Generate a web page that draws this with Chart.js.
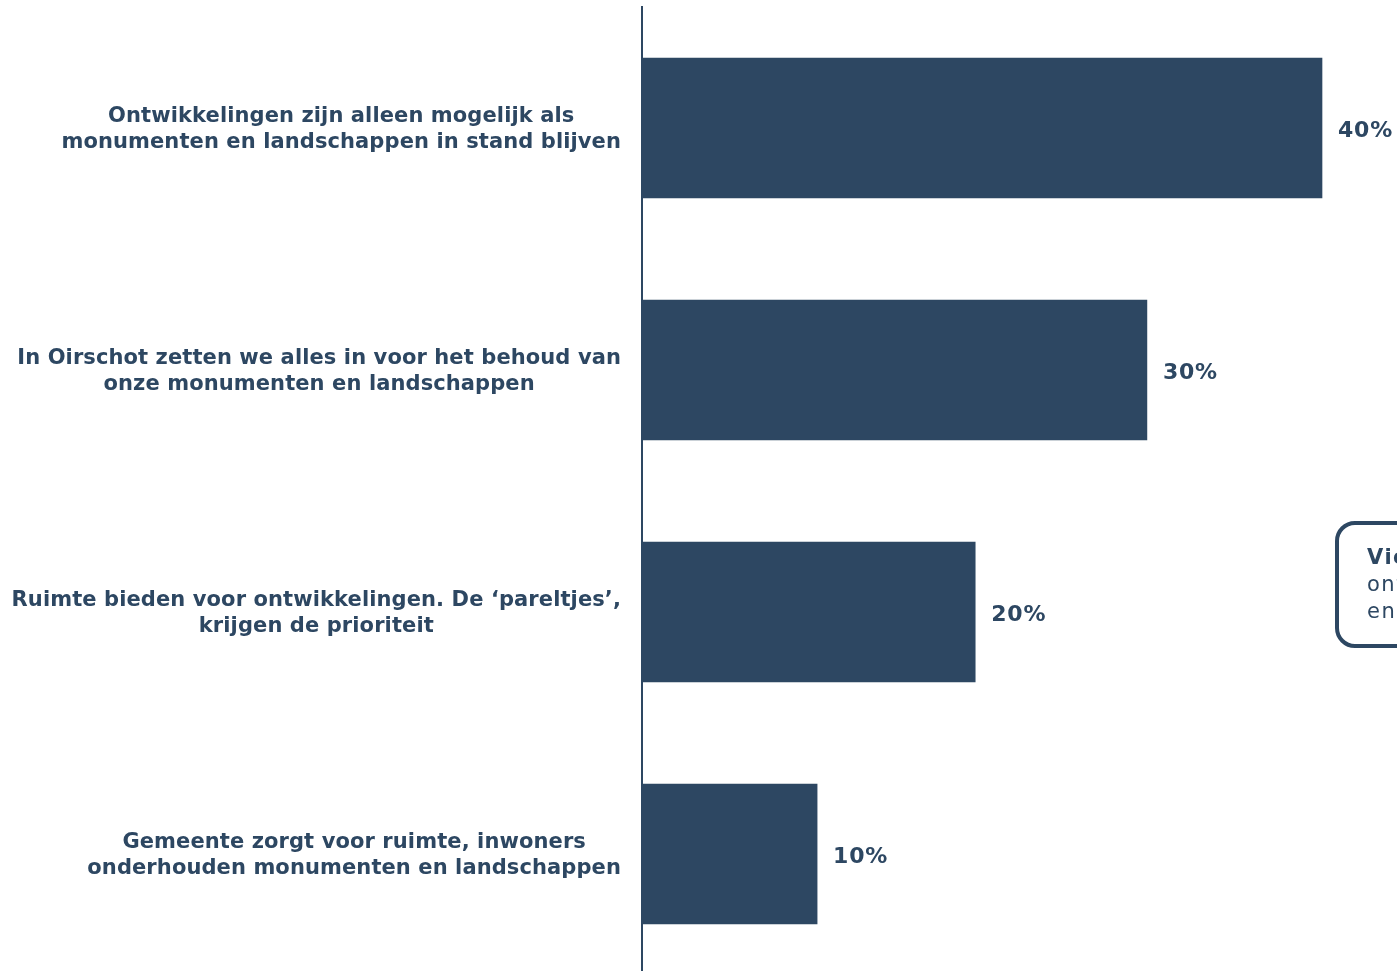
<!DOCTYPE html>
<html>
<head>
<meta charset="utf-8">
<script src="https://cdn.jsdelivr.net/npm/chart.js@4"></script>
<style>
  html, body { margin: 0; padding: 0; background: #fff; overflow: hidden; }
  #wrap { position: absolute; left: 0; top: 0; width: 1397px; height: 975px; }
  #note {
    position: absolute; left: 1335px; top: 521px; width: 320px; height: 127px;
    border: 4px solid #2D4762; border-radius: 20px;
    padding: 19px 0 0 28px; box-sizing: border-box;
    font-family: "DejaVu Sans", Verdana, sans-serif; font-size: 21px; line-height: 27px;
    letter-spacing: 1.5px; color: #2D4762; white-space: nowrap;
  }
  #note b { font-weight: bold; }
</style>
</head>
<body>
<div id="wrap"><canvas id="barChart" width="1397" height="975"></canvas></div>
<div id="note"><b>Vier op de tien</b><br>ontwikkelingen alleen mogelijk<br>en monumenten behouden</div>
<script>
// statements (y axis)
var categories = [
  ["Ontwikkelingen zijn alleen mogelijk als", "monumenten en landschappen in stand blijven"],
  ["In Oirschot zetten we alles in voor het behoud van", "onze monumenten en landschappen"],
  ["Ruimte bieden voor ontwikkelingen. De \u2018pareltjes\u2019,", "krijgen de prioriteit"],
  ["Gemeente zorgt voor ruimte, inwoners", "onderhouden monumenten en landschappen"]
];
// share of respondents (%)
var shares = [40.0, 29.7, 19.6, 10.3];
// labels printed next to the bars
var shareLabels = ["40%", "30%", "20%", "10%"];

var navy = "#2D4762";
var labelFont = 'bold 21px "DejaVu Sans", Verdana, sans-serif';
var valueFont = 'bold 22px "DejaVu Sans", Verdana, sans-serif';

// draws the centred two-line labels and the % next to each bar
var labelPlugin = {
  id: "labels",
  afterDraw: function (chart) {
    var ctx = chart.ctx;
    var yScale = chart.scales.y;
    var meta = chart.getDatasetMeta(0);
    ctx.save();
    ctx.fillStyle = navy;
    ctx.textBaseline = "middle";
    categories.forEach(function (lines, i) {
      var y = yScale.getPixelForTick(i) + 1.5;
      ctx.font = labelFont;
      ctx.letterSpacing = "0.1px";
      var maxW = 0;
      lines.forEach(function (l) { maxW = Math.max(maxW, ctx.measureText(l).width); });
      var cx = chart.chartArea.left - 21 - maxW / 2;
      ctx.textAlign = "center";
      lines.forEach(function (l, j) {
        ctx.fillText(l, cx, y + (j - (lines.length - 1) / 2) * 25.5);
      });
      var bar = meta.data[i];
      ctx.font = valueFont;
      ctx.letterSpacing = "0.8px";
      ctx.textAlign = "left";
      ctx.fillText(shareLabels[i], bar.x + 16, bar.y + 3);
    });
    ctx.restore();
  }
};

var ctx = document.getElementById("barChart");
var myChart = new Chart(ctx, {
  type: 'bar',
  data: {
    labels: categories,
    datasets: [
      {
        data: shares,
        backgroundColor: navy,
        borderWidth: 0,
        barThickness: 140
      }
    ]
  },
  options: {
    indexAxis: 'y',
    responsive: false,
    animation: false,
    layout: { padding: { top: 7, right: 7, left: 0, bottom: 0 } },
    plugins: { legend: { display: false }, tooltip: { enabled: false } },
    scales: {
      x: { display: false, min: 0, max: 44 },
      y: {
        grid: { display: false },
        border: { display: true, color: navy, width: 2 },
        ticks: { display: false },
        afterFit: function (scale) { scale.width = 642; }
      }
    }
  },
  plugins: [labelPlugin]
});
</script>
</body>
</html>
